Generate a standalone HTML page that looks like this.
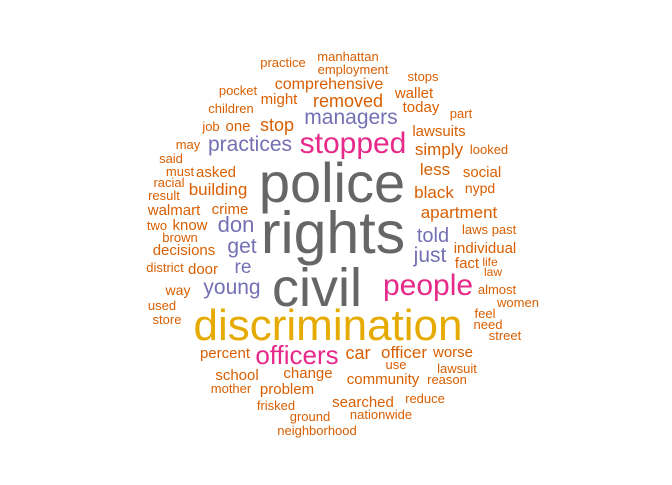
<!DOCTYPE html>
<html><head><meta charset="utf-8"><style>
html,body{margin:0;padding:0;background:#fff;}
svg text{font-family:"Liberation Sans",Arial,sans-serif;}
</style></head><body>
<svg id="cloud" width="672" height="480" viewBox="0 0 672 480" xmlns="http://www.w3.org/2000/svg">
<rect width="672" height="480" fill="#fff"/>
</svg>
<script>
const words = ["police","rights","civil","discrimination","stopped","people","officers","managers","practices","don","get","re","young","told","just","stop","removed","comprehensive","might","practice","manhattan","employment","pocket","children","job","one","may","said","must","asked","racial","result","building","crime","walmart","two","know","brown","decisions","district","door","way","used","store","percent","school","mother","change","problem","frisked","ground","neighborhood","searched","nationwide","reduce","community","reason","lawsuit","use","car","officer","worse","street","need","feel","women","almost","law","life","fact","individual","laws","past","apartment","nypd","black","social","less","simply","looked","lawsuits","part","today","wallet","stops"];
const sizes = [56,59,54,44,30,30,26,21,21,22,21,19,21,20,21,18,18,16,15,13,13,13,13,13,13,15,13,13,13,15,13,13,17,15,15,13,15,13,15,13,15,14,13,13,15,15,13,15,15,13,13,13,15,13,13,15,13,13,13,18,17,15,13,13,13,13,13,12,12,15,15,13,13,17,14,17,15,17,17,13,15,13,15,15,13];
const groups = [0,0,0,1,2,2,2,3,3,3,3,3,3,3,3];
const palette = ["#666666","#E6AB02","#E7298A","#7570B3","#D95F02"];
// layout: [centerX, baselineY]
const layout = [[332,202],[333,253],[317,306],[328,340],[353,153],[428,295],[297,364],[351,124],[250,151],[236,232],[242,253],[243,273],[232,294],[433,242],[430,262],[277,131],[348,107],[329,89],[279,104],[283,67],[348,61],[353,74],[238,95],[231,113],[211,131],[238,131],[188,149],[171,163],[180,176],[216,177],[169,187],[164,200],[218,195],[230,214],[174,215],[157,230],[190,230],[180,242],[184,255],[165,272],[203,274],[178,295],[162,310],[167,324],[225,358],[237,380],[231,393],[308,378],[287,394],[276,410],[310,421],[317,435],[363,407],[381,419],[425,403],[383,384],[447,384],[457,373],[396,369],[358,359],[404,358],[453,357],[505,340],[488,329],[485,318],[518,307],[497,294],[493,276],[490,266],[467,268],[485,253],[475,234],[504,234],[459,218],[480,193],[434,198],[482,177],[435,175],[439,155],[489,154],[439,136],[461,118],[421,112],[414,98],[423,81]];
const svg = document.getElementById('cloud');
words.forEach((w,i)=>{
  const t = document.createElementNS('http://www.w3.org/2000/svg','text');
  
  
  t.setAttribute('x', layout[i][0]);
  t.setAttribute('y', layout[i][1]);
  t.setAttribute('font-size', sizes[i]);
  t.setAttribute('text-anchor','middle');
  t.setAttribute('fill', palette[i < groups.length ? groups[i] : 4]);
  t.textContent = w;
  svg.appendChild(t);
});
</script>
</body></html>
